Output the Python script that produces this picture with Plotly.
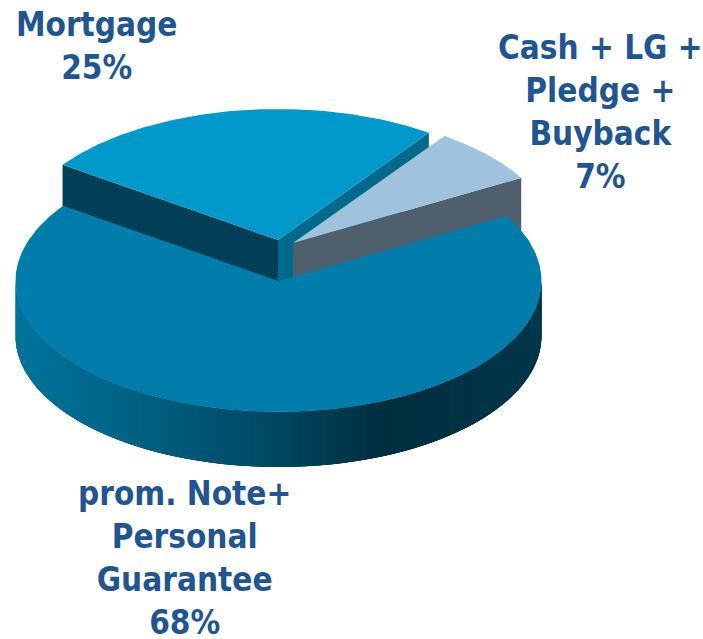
import numpy as np
import plotly.graph_objects as go

# Data
categories = ["Mortgage", "Cash + LG +<br>Pledge +<br>Buyback", "prom. Note+<br>Personal<br>Guarantee"]
values = [25, 7, 68]

# Styles
top_colors = ["#0099cc", "#9fc3dc", "#007dab"]
TEXT = "#1f5592"
FONT = "DejaVu Sans Condensed"
A, B = 263, 131
START = 145.0
centers = [(278, 240), (293, 243), (278.5, 281)]
heights = [42, 52, 55]
inner_face_depth = 60
label_pos = [(96, 46), (600, 112), (184, 558)]
grad_x = [16, 130, 250, 330, 385, 460, 541]
grad_c = [(0, 116, 156), (0, 98, 132), (0, 76, 104), (0, 58, 80), (0, 46, 62), (0, 50, 67), (0, 54, 74)]


def hexcol(c):
    return "rgb(%d,%d,%d)" % tuple(int(round(v)) for v in c)


def poly(fig, x, y, color):
    fig.add_trace(go.Scatter(x=list(x), y=list(y), mode="lines", fill="toself", fillcolor=color,
                             line=dict(color=color, width=0), hoverinfo="skip", showlegend=False))


def rim(c, t0, t1, n=160):
    t = np.radians(np.linspace(t0, t1, n))
    return c[0] + A * np.cos(t), c[1] - B * np.sin(t)


def pt(c, deg):
    r = np.radians(deg)
    return c[0] + A * np.cos(r), c[1] - B * np.sin(r)


fig = go.Figure()

# Slice angles follow the values, going clockwise from START
total = sum(values)
edges = [START]
for v in values:
    edges.append(edges[-1] - 360.0 * v / total)

# Mortgage: the inner face runs deep and is trimmed by the slices painted after it
c, h = centers[0], heights[0]
a0, a1 = edges[0], edges[1]
lx, ly = pt(c, a0)
rx, ry = pt(c, a1)
poly(fig, [c[0], rx, rx, c[0]], [c[1], ry, ry + inner_face_depth, c[1] + inner_face_depth], "#006a8c")
poly(fig, [lx, c[0], c[0], lx], [ly, c[1], c[1] + h, ly + h], "#003f55")
ax, ay = rim(c, a0, a1)
poly(fig, [c[0], *ax], [c[1], *ay], top_colors[0])

# Cash
c, h = centers[1], heights[1]
a0, a1 = edges[1], edges[2]
rx, ry = pt(c, a1)
poly(fig, [c[0], rx, rx, c[0]], [c[1], ry, ry + h, c[1] + h], "#4f5f6c")
ax, ay = rim(c, a0, a1)
poly(fig, [c[0], *ax], [c[1], *ay], top_colors[1])

# Main slice: shaded rim made of overlapping strips, then the top surface
c, h = centers[2], heights[2]
strip_edges = np.linspace(180, 360, 121)
for t0, t1 in zip(strip_edges[:-1], strip_edges[1:]):
    xa, ya = rim(c, t0, min(t1 + 4.5, 360), 8)
    xm = rim(c, t0, t1, 2)[0].mean()
    col = [np.interp(xm, grad_x, [g[i] for g in grad_c]) for i in range(3)]
    poly(fig, [*xa, *xa[::-1]], [*ya, *(ya[::-1] + h)], hexcol(col))
ax, ay = rim(c, edges[2], edges[3], 300)
poly(fig, [c[0], *ax], [c[1], *ay], top_colors[2])

for name, v, (x, y) in zip(categories, values, label_pos):
    fig.add_annotation(x=x, y=y, text=f"<b>{name}<br>{v}%</b>", showarrow=False, align="center",
                       xanchor="center", yanchor="middle",
                       font=dict(family=FONT, size=33, color=TEXT))

fig.update_layout(width=703, height=639, margin=dict(l=0, r=0, t=0, b=0),
                  paper_bgcolor="white", plot_bgcolor="white", showlegend=False,
                  xaxis=dict(range=[0, 703], visible=False, fixedrange=True),
                  yaxis=dict(range=[639, 0], visible=False, fixedrange=True))
fig.write_html("out.html", config=dict(displayModeBar=False),
               post_script="document.body.style.margin='0';")
